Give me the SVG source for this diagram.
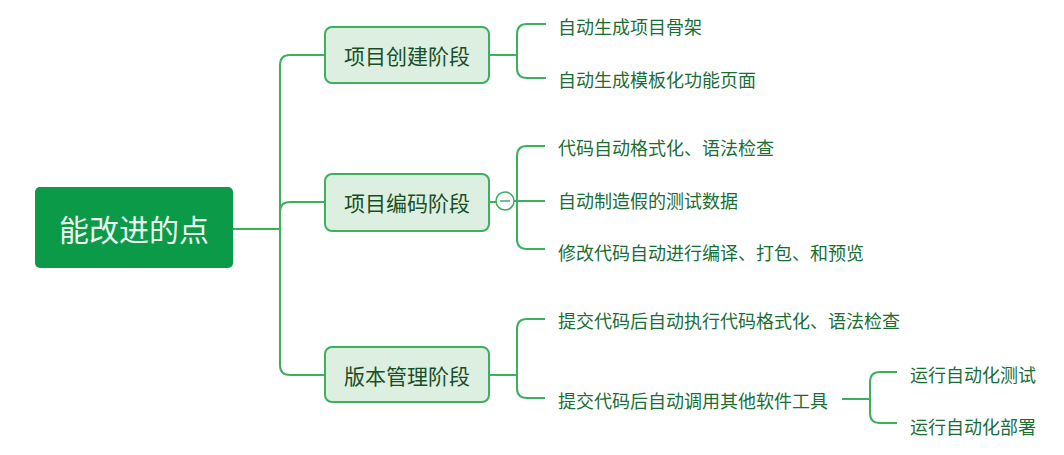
<svg xmlns="http://www.w3.org/2000/svg" width="1064" height="455" viewBox="0 0 1064 455">
<style>
.line{fill:none;stroke:#3cb05f;stroke-width:2}
.root{fill:#0a9a48}
.rootText{font-family:"Noto Sans CJK SC","Noto Sans",sans-serif;font-size:30px;fill:#eaf6ee;text-anchor:middle;dominant-baseline:central}
.node{fill:#dcefe0;stroke:#3cb05f;stroke-width:2}
.nodeText{font-family:"Noto Sans CJK SC","Noto Sans",sans-serif;font-size:21px;fill:#184f28;text-anchor:middle;dominant-baseline:central}
.leaf{font-family:"Noto Sans CJK SC","Noto Sans",sans-serif;font-size:18px;fill:#1a6e34;dominant-baseline:central}
</style>
<rect width="1064" height="455" fill="#ffffff"/>
<g id="connectors">
<path class="line" d="M233,229 H280 V65 Q280,55 290,55 H325"/>
<path class="line" d="M280,229 V212 Q280,202 290,202 H325"/>
<path class="line" d="M280,229 V365 Q280,375 290,375 H325"/>
<path class="line" d="M489,55 H517"/>
<path class="line" d="M517,55 V34 Q517,24 527,24 H546"/>
<path class="line" d="M517,55 V68 Q517,78 527,78 H546"/>
<path class="line" d="M489,202 H496"/>
<path class="line" d="M514,201 H545"/>
<path class="line" d="M517,201 V156 Q517,146 527,146 H545"/>
<path class="line" d="M517,201 V239 Q517,249 527,249 H545"/>
<path class="line" d="M489,375 H517"/>
<path class="line" d="M517,375 V329 Q517,319 527,319 H545"/>
<path class="line" d="M517,375 V388 Q517,398 527,398 H545"/>
<path class="line" d="M842,399 H870"/>
<path class="line" d="M870,399 V382 Q870,372 880,372 H897"/>
<path class="line" d="M870,399 V413 Q870,423 880,423 H897"/>
</g>
<g id="root">
<rect class="root" x="35" y="187" width="198" height="81" rx="5"/>
<text class="rootText" x="134" y="228">能改进的点</text>
</g>
<g id="node1">
<rect class="node" x="325" y="27" width="164" height="56" rx="7"/>
<text class="nodeText" x="407" y="55">项目创建阶段</text>
</g>
<g id="node2">
<rect class="node" x="325" y="174" width="164" height="57" rx="7"/>
<text class="nodeText" x="407" y="202">项目编码阶段</text>
<circle cx="505" cy="201" r="9" fill="#ffffff" stroke="#3cb05f" stroke-width="1.5"/>
<path d="M500,201 H510" stroke="#3cb05f" stroke-width="1.5"/>
</g>
<g id="node3">
<rect class="node" x="325" y="347" width="164" height="55" rx="7"/>
<text class="nodeText" x="407" y="375">版本管理阶段</text>
</g>
<g id="leaf1"><text class="leaf" x="558" y="26">自动生成项目骨架</text></g>
<g id="leaf2"><text class="leaf" x="558" y="79">自动生成模板化功能页面</text></g>
<g id="leaf3"><text class="leaf" x="558" y="147">代码自动格式化、语法检查</text></g>
<g id="leaf4"><text class="leaf" x="558" y="200">自动制造假的测试数据</text></g>
<g id="leaf5"><text class="leaf" x="558" y="252">修改代码自动进行编译、打包、和预览</text></g>
<g id="leaf6"><text class="leaf" x="558" y="320">提交代码后自动执行代码格式化、语法检查</text></g>
<g id="leaf7"><text class="leaf" x="558" y="400">提交代码后自动调用其他软件工具</text></g>
<g id="leaf8"><text class="leaf" x="910" y="374">运行自动化测试</text></g>
<g id="leaf9"><text class="leaf" x="910" y="426">运行自动化部署</text></g>
</svg>
